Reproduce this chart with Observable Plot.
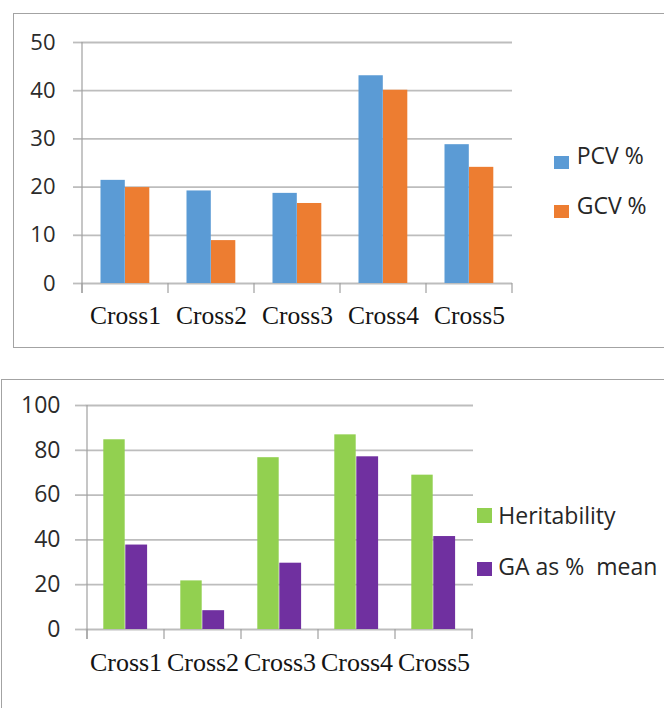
<!DOCTYPE html>
<html><head><meta charset="utf-8">
<script src="https://cdn.jsdelivr.net/npm/d3@7"></script>
<script src="https://cdn.jsdelivr.net/npm/@observablehq/plot@0.6"></script>
<style>
html,body{margin:0;padding:0;background:#fff;}
#page{position:relative;width:664px;height:708px;overflow:hidden;background:#fff;}
.box{position:absolute;border:1.5px solid #a3a3a3;box-sizing:border-box;}
.chart{position:absolute;left:0;}
.sw{position:absolute;}
.lt{position:absolute;font-family:"Open Sans";font-size:23px;line-height:23px;color:#262626;white-space:pre;}
</style></head><body><div id="page">
<div class="box" style="left:13px;top:13px;width:700px;height:335px;"></div>
<div class="box" style="left:1px;top:379px;width:700px;height:400px;"></div>
<div id="c1" class="chart" style="top:0"></div>
<div id="c2" class="chart" style="top:360px"></div>
<div id="legends"></div>
</div>
<script>
const crosses = ["Cross1","Cross2","Cross3","Cross4","Cross5"];
const pcv = [21.4, 19.2, 18.7, 43.1, 28.8];
const gcv = [19.9, 8.9, 16.6, 40.1, 24.1];
const heritability = [84.7, 21.7, 76.7, 86.9, 68.9];
const gaMean = [37.7, 8.4, 29.6, 77.1, 41.5];
const yTicks1 = [0,10,20,30,40,50];
const yTicks2 = [0,20,40,60,80,100];
const series1 = ["PCV %", "GCV %"];
const series2 = ["Heritability", "GA as %  mean"];
const colors1 = ["#5B9BD5", "#ED7D31"];
const colors2 = ["#92D050", "#7030A0"];

function categoryFrame(cats, tickLen, yTop) {
  return (index, scales) => {
    const x = scales.x, y = scales.y;
    const step = x(cats[1]) - x(cats[0]);
    const xs = cats.map(c => x(c)).concat([x(cats[cats.length-1]) + step]);
    const y0 = y(0);
    const g = d3.create("svg:g").attr("stroke", "#a0a0a0").attr("stroke-width", 1.2);
    g.append("line").attr("x1", xs[0]).attr("x2", xs[0]).attr("y1", y(yTop)).attr("y2", y0 + tickLen);
    for (const xi of xs) g.append("line").attr("x1", xi).attr("x2", xi).attr("y1", y0).attr("y2", y0 + tickLen);
    return g.node();
  };
}

const rows1 = crosses.map((c,i) => ({cross: c, a: pcv[i], b: gcv[i]}));
const rows2 = crosses.map((c,i) => ({cross: c, a: heritability[i], b: gaMean[i]}));

const p1 = Plot.plot({
  width: 530, height: 343, marginLeft: 81, marginRight: 18, marginTop: 42, marginBottom: 60,
  style: {background: "transparent", fontFamily: "Open Sans", overflow: "visible"},
  x: {domain: crosses, padding: 0, label: null},
  y: {domain: [0, 50], label: null},
  marks: [
    Plot.ruleY(yTicks1, {stroke: "#bdbdbd", strokeWidth: 1.8}),
    Plot.barY(rows1, {x: "cross", y: "a", fill: colors1[0], insetLeft: 18.5, insetRight: 43.2}),
    Plot.barY(rows1, {x: "cross", y: "b", fill: colors1[1], insetLeft: 43, insetRight: 18.7}),
    Plot.axisY({ticks: yTicks1, tickSize: 8, tickPadding: 18, stroke: "#bdbdbd", strokeWidth: 1.8, fill: "#2b2b2b", fontSize: 22, label: null}),
    Plot.axisX({tickSize: 0, tickPadding: 22.6, fontFamily: "Liberation Serif", fontSize: 25.5, fill: "#141414", label: null}),
    categoryFrame(crosses, 10, 50)
  ]
});
document.getElementById("c1").appendChild(p1);

const p2 = Plot.plot({
  width: 490, height: 329, marginLeft: 85, marginRight: 17, marginTop: 45, marginBottom: 60,
  style: {background: "transparent", fontFamily: "Open Sans", overflow: "visible"},
  x: {domain: crosses, padding: 0, label: null},
  y: {domain: [0, 100], label: null},
  marks: [
    Plot.ruleY(yTicks2, {stroke: "#bdbdbd", strokeWidth: 1.8}),
    Plot.barY(rows2, {x: "cross", y: "a", fill: colors2[0], insetLeft: 16.3, insetRight: 39.3}),
    Plot.barY(rows2, {x: "cross", y: "b", fill: colors2[1], insetLeft: 38.3, insetRight: 16.9}),
    Plot.axisY({ticks: yTicks2, tickSize: 10, tickPadding: 15, stroke: "#bdbdbd", strokeWidth: 1.8, fill: "#2b2b2b", fontSize: 23, label: null}),
    Plot.axisX({tickSize: 0, tickPadding: 22.8, fontFamily: "Liberation Serif", fontSize: 26, fill: "#141414", label: null}),
    categoryFrame(crosses, 10, 100)
  ]
});
document.getElementById("c2").appendChild(p2);

// legends
const legendSpec = [
  {names: series1, colors: colors1, swLeft: 554, swW: 15, swTops: [156, 205], swH: 12.5, txtLeft: 576.7, txtTops: [143.9, 193.9]},
  {names: series2, colors: colors2, swLeft: 476.7, swW: 15.6, swTops: [508.3, 561.7], swH: 14.5, txtLeft: 498.3, txtTops: [503.9, 554.6]}
];
const lg = d3.select("#legends");
for (const s of legendSpec) {
  s.names.forEach((n, i) => {
    lg.append("div").attr("class", "sw")
      .style("left", s.swLeft + "px").style("top", s.swTops[i] + "px")
      .style("width", s.swW + "px").style("height", s.swH + "px")
      .style("background", s.colors[i]);
    lg.append("div").attr("class", "lt")
      .style("left", s.txtLeft + "px").style("top", s.txtTops[i] + "px")
      .text(n);
  });
}
</script>
</body></html>
